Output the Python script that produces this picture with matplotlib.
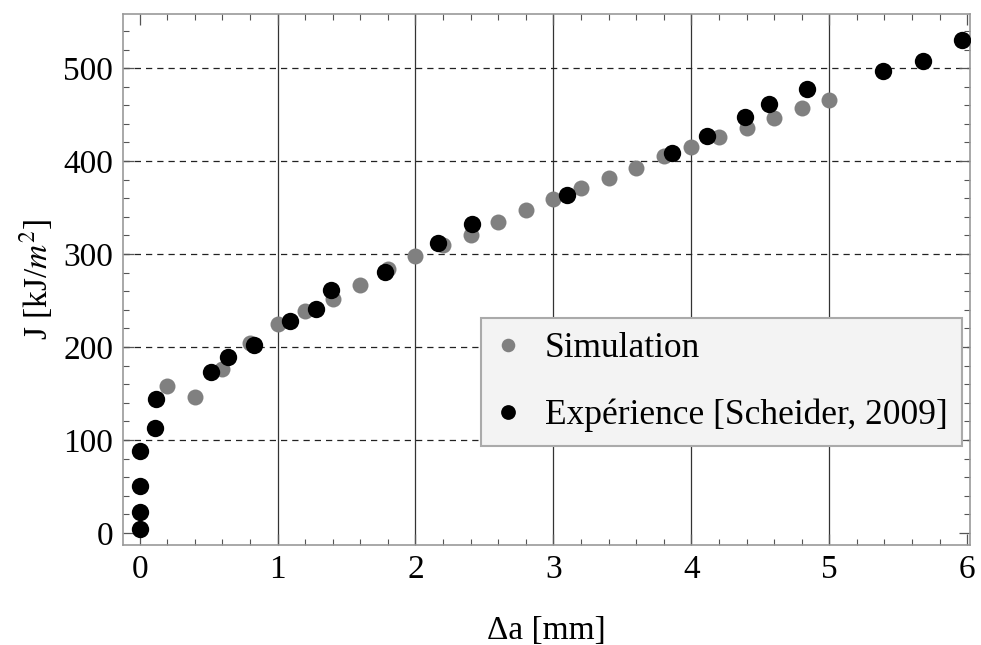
import numpy as np
import matplotlib
matplotlib.use("Agg")
import matplotlib.pyplot as plt
from matplotlib.ticker import MultipleLocator

# ---------------------------------------------------------------------------
# Data
# ---------------------------------------------------------------------------
sim_da = [0.2, 0.4, 0.6, 0.8, 1.0, 1.2, 1.4, 1.6, 1.8, 2.0, 2.2, 2.4, 2.6,
          2.8, 3.0, 3.2, 3.4, 3.6, 3.8, 4.0, 4.2, 4.4, 4.6, 4.8, 5.0]
sim_J = [158, 146, 176, 204, 225, 239, 252, 267, 284, 298, 310, 321, 334,
         347, 359, 371, 382, 393, 405, 415, 426, 436, 446, 457, 466]

exp_da = [0.0, 0.0, 0.0, 0.0, 0.11, 0.12, 0.52, 0.64, 0.83, 1.09, 1.28, 1.39,
          1.78, 2.16, 2.41, 3.10, 3.86, 4.11, 4.39, 4.56, 4.84, 5.39, 5.68, 5.96]
exp_J = [4, 22, 51, 88, 113, 144, 173, 189, 202, 228, 241, 261,
         281, 312, 332, 363, 409, 427, 447, 461, 478, 497, 508, 530]

LBL_SIM = "Simulation"
LBL_EXP = "Expérience [Scheider, 2009]"

# ---------------------------------------------------------------------------
plt.rcParams["font.family"] = ["Liberation Serif", "DejaVu Serif"]
plt.rcParams["mathtext.fontset"] = "stix"
FS = 24        # ticks / axis labels
FS_LEG = 25.5  # legend

fig = plt.figure(figsize=(9.81, 6.45), dpi=100)
ax = fig.add_axes([0.1254, 0.155, 0.8634, 0.823])

ax.plot(sim_da, sim_J, ls="none", marker="o", ms=11.5, color="#808080",
        mec="none", label=LBL_SIM, zorder=3)
ax.plot(exp_da, exp_J, ls="none", marker="o", ms=12.5, color="black",
        mec="none", label=LBL_EXP, zorder=4)

ax.set_xlim(-0.12, 6.02)
ax.set_ylim(-13, 558)

# grid: solid verticals, dashed horizontals
for xv in [1, 2, 3, 4, 5]:
    ax.axvline(xv, color="#333333", lw=0.9, zorder=1)
for yv in [100, 200, 300, 400, 500]:
    ax.axhline(yv, color="#222222", lw=0.9, ls=(0, (5, 4)), zorder=1)

ax.xaxis.set_major_locator(MultipleLocator(1))
ax.xaxis.set_minor_locator(MultipleLocator(0.2))
ax.yaxis.set_major_locator(MultipleLocator(100))
ax.yaxis.set_minor_locator(MultipleLocator(20))
ax.tick_params(which="both", direction="in", top=True, right=True,
               color="#555555", labelsize=FS)
ax.tick_params(which="major", length=8, width=0.9, pad=7)
ax.tick_params(which="minor", length=4, width=0.8)
for sp in ax.spines.values():
    sp.set_color("#999999")
    sp.set_linewidth(1.2)

ax.set_xlabel("Δa [mm]", fontsize=FS, labelpad=22)
ax.set_ylabel("J [kJ/$m^2$]", fontsize=FS, labelpad=6)

leg = ax.legend(loc="lower right", bbox_to_anchor=(0.9905, 0.186),
                borderaxespad=0, fontsize=FS_LEG, frameon=True,
                fancybox=False, handletextpad=0.67, labelspacing=0.95,
                borderpad=0.4, handlelength=0.75, markerscale=0.85)
leg.get_frame().set_facecolor("#f3f3f3")
leg.get_frame().set_edgecolor("#aaaaaa")
leg.get_frame().set_linewidth(1.5)
leg.get_frame().set_alpha(1)

fig.savefig("out.png", dpi=100)
